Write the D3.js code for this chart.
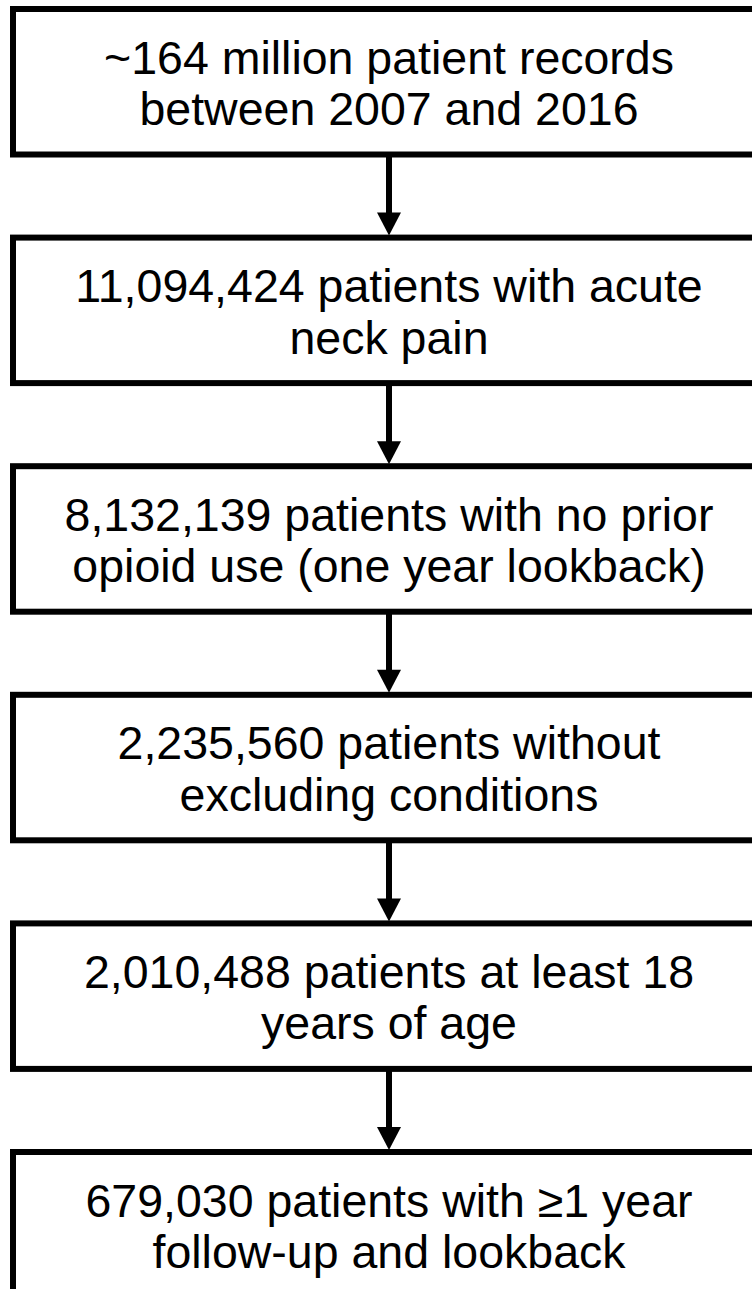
<!DOCTYPE html>
<html>
<head>
<meta charset="utf-8">
<script src="https://cdn.jsdelivr.net/npm/d3@7"></script>
<style>
html,body{margin:0;padding:0;background:#fff;overflow:hidden;}
svg{display:block;}
text{font-family:Arial,"Liberation Sans",Helvetica,sans-serif;}
</style>
</head>
<body>
<svg id="chart" width="752" height="1289"></svg>
<script>
// Flowchart steps
const steps = ["step1","step2","step3","step4","step5","step6"];
const line1 = [
  "~164 million patient records",
  "11,094,424 patients with acute",
  "8,132,139 patients with no prior",
  "2,235,560 patients without",
  "2,010,488 patients at least 18",
  "679,030 patients with \u22651 year"
];
const line2 = [
  "between 2007 and 2016",
  "neck pain",
  "opioid use (one year lookback)",
  "excluding conditions",
  "years of age",
  "follow-up and lookback"
];

const svg = d3.select("#chart");

const boxLeft = 13, boxRight = 765, boxH = 145.5, sw = 6;
const cx = (boxLeft + boxRight) / 2;

const y = d3.scaleLinear().domain([0, steps.length - 1]).range([9, 9 + 5 * 228.6]);

const g = svg.append("g");

const nodes = g.selectAll("g.node").data(steps).join("g")
  .attr("class", "node")
  .attr("transform", (d, i) => `translate(0,${y(i)})`);

nodes.append("rect")
  .attr("x", boxLeft).attr("y", 0)
  .attr("width", boxRight - boxLeft).attr("height", boxH)
  .attr("fill", "#fff").attr("stroke", "#000").attr("stroke-width", sw);

nodes.append("text")
  .attr("x", cx).attr("y", 64.5)
  .attr("text-anchor", "middle")
  .attr("font-size", 46.5).attr("fill", "#000")
  .text((d, i) => line1[i]);
nodes.append("text")
  .attr("x", cx).attr("y", 116)
  .attr("text-anchor", "middle")
  .attr("font-size", 46.5).attr("fill", "#000")
  .text((d, i) => line2[i]);

// Arrows between boxes
const links = d3.range(steps.length - 1);
const arrows = g.selectAll("g.arrow").data(links).join("g").attr("class", "arrow");
arrows.append("line")
  .attr("x1", cx).attr("x2", cx)
  .attr("y1", i => y(i) + boxH)
  .attr("y2", i => y(i + 1) - 20)
  .attr("stroke", "#000").attr("stroke-width", sw);
arrows.append("path")
  .attr("d", i => {
    const tip = y(i + 1) - 2;
    return `M${cx - 12},${tip - 23}L${cx + 12},${tip - 23}L${cx},${tip}Z`;
  })
  .attr("fill", "#000");
</script>
</body>
</html>
